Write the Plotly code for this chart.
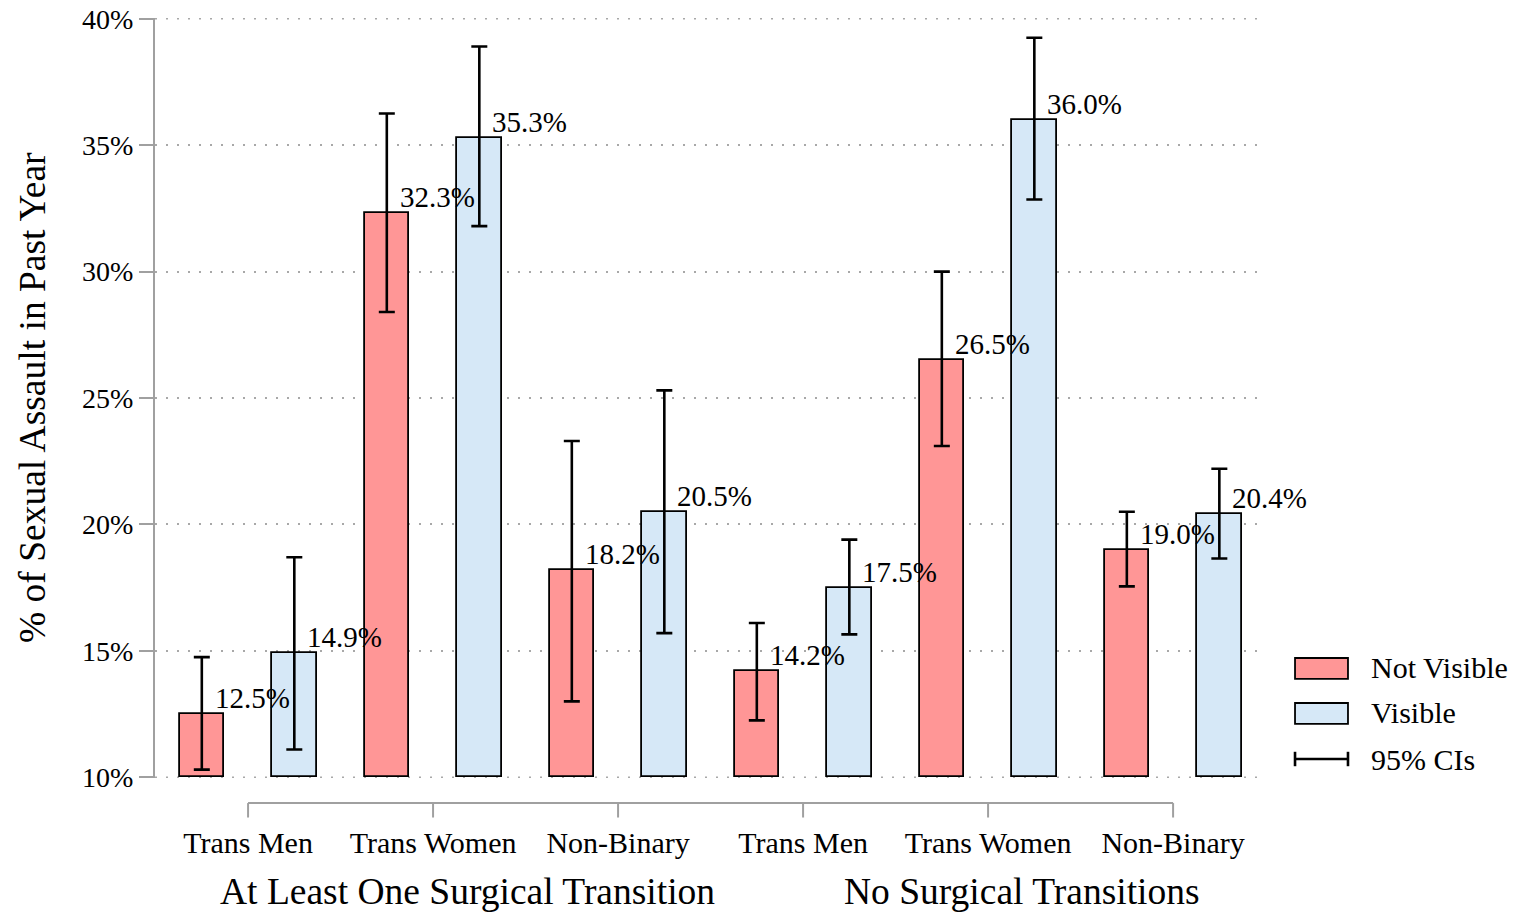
import plotly.graph_objects as go

# Categories
surgery_groups = ["At Least One Surgical Transition", "No Surgical Transitions"]
identities = ["Trans Men", "Trans Women", "Non-Binary"]
tick_labels = identities * 2

# % experiencing sexual assault in the past year, with 95% CI bounds
not_visible = [12.5, 32.3, 18.2, 14.2, 26.5, 19.0]
not_visible_lo = [10.3, 28.4, 13.0, 12.25, 23.1, 17.55]
not_visible_hi = [14.75, 36.25, 23.3, 16.1, 30.0, 20.5]

visible = [14.9, 35.3, 20.5, 17.5, 36.0, 20.4]
visible_lo = [11.1, 31.8, 15.7, 15.65, 32.85, 18.65]
visible_hi = [18.7, 38.9, 25.3, 19.4, 39.25, 22.2]

y_ticks = [10, 15, 20, 25, 30, 35, 40]
y_title = "% of Sexual Assault in Past Year"

SERIF = "Liberation Serif, Times New Roman, serif"
RED = "#FF9696"
BLUE = "#D6E8F7"
GREY = "#A0A0A0"
GRID = "#A8A8A8"
GRID_DASH = "2px,9px"
BASE = 10
OFFSET = 0.25
BAR_W = 0.24

centers = list(range(len(tick_labels)))
x_nv = [c - OFFSET for c in centers]
x_v = [c + OFFSET for c in centers]

fig = go.Figure()

for name, xs, vals, color in [("Not Visible", x_nv, not_visible, RED),
                              ("Visible", x_v, visible, BLUE)]:
    fig.add_trace(go.Bar(
        x=xs, y=[v - BASE for v in vals], base=BASE, width=BAR_W,
        marker=dict(color=color, line=dict(color="black", width=1.8)),
        name=name, showlegend=False,
    ))

for xs, vals, lo, hi in [(x_nv, not_visible, not_visible_lo, not_visible_hi),
                         (x_v, visible, visible_lo, visible_hi)]:
    fig.add_trace(go.Scatter(
        x=xs, y=vals, mode="markers", marker=dict(size=1, opacity=0),
        error_y=dict(type="data", symmetric=False,
                     array=[h - v for h, v in zip(hi, vals)],
                     arrayminus=[v - l for v, l in zip(vals, lo)],
                     color="black", thickness=2.6, width=8),
        showlegend=False, hoverinfo="skip",
    ))

annotations = []
# value labels at the top-right of each bar
for xs, vals in [(x_nv, not_visible), (x_v, visible)]:
    for x, v in zip(xs, vals):
        annotations.append(dict(
            x=x, y=v, xref="x", yref="y", text=f"{v:.1f}%",
            xanchor="left", yanchor="bottom", xshift=11, yshift=-2,
            showarrow=False, font=dict(family=SERIF, size=29, color="black"),
        ))

# group labels under the identity labels
for g, name in enumerate(surgery_groups):
    annotations.append(dict(
        x=1 + 3 * g, y=-0.149, xref="x", yref="paper", text=name,
        xanchor="center", yanchor="middle", xshift=34, showarrow=False,
        font=dict(family=SERIF, size=37.5, color="black"),
    ))

# y-axis title
annotations.append(dict(
    x=-0.111, y=0.5, xref="paper", yref="paper", text=y_title, textangle=-90,
    xanchor="center", yanchor="middle", showarrow=False,
    font=dict(family=SERIF, size=37.5, color="black"),
))

shapes = []
# dotted guides at the ends of the y range
for yv in (y_ticks[0], y_ticks[-1]):
    shapes.append(dict(type="line", xref="paper", yref="y", x0=0, x1=1, y0=yv, y1=yv,
                       layer="below", line=dict(color=GRID, width=1.5, dash=GRID_DASH)))

# offset x axis line with downward ticks
AX_Y = -0.033
TICK_Y = -0.052
shapes.append(dict(type="line", xref="x", yref="paper", x0=centers[0], x1=centers[-1],
                   y0=AX_Y, y1=AX_Y, line=dict(color=GREY, width=2)))
for c in centers:
    shapes.append(dict(type="line", xref="x", yref="paper", x0=c, x1=c,
                       y0=AX_Y, y1=TICK_Y, line=dict(color=GREY, width=2)))

# legend
LX0, LX1, LTX = 1.0289, 1.0767, 1.0957
legend_items = [("Not Visible", RED, 0.1579, 0.1303), ("Visible", BLUE, 0.0987, 0.0711)]
for label, color, y0, y1 in legend_items:
    shapes.append(dict(type="rect", xref="paper", yref="paper", x0=LX0, x1=LX1,
                       y0=y1, y1=y0, fillcolor=color, line=dict(color="black", width=1.8)))
    annotations.append(dict(x=LTX, y=(y0 + y1) / 2 + 0.001, xref="paper", yref="paper",
                            text=label, xanchor="left", yanchor="middle", showarrow=False,
                            font=dict(family=SERIF, size=30, color="black")))
CI_Y = 0.025
shapes.append(dict(type="line", xref="paper", yref="paper", x0=LX0, x1=LX1,
                   y0=CI_Y, y1=CI_Y, line=dict(color="black", width=2.6)))
for xe in (LX0, LX1):
    shapes.append(dict(type="line", xref="paper", yref="paper", x0=xe, x1=xe,
                       y0=CI_Y - 0.0095, y1=CI_Y + 0.0095, line=dict(color="black", width=2.6)))
annotations.append(dict(x=LTX, y=CI_Y - 0.001, xref="paper", yref="paper",
                        text="95% CIs", xanchor="left", yanchor="middle", showarrow=False,
                        font=dict(family=SERIF, size=30, color="black")))

fig.update_layout(
    width=1515, height=913,
    margin=dict(l=155, r=252, t=18, b=135, autoexpand=False),
    paper_bgcolor="white", plot_bgcolor="white",
    font=dict(family=SERIF, size=28, color="black"),
    bargap=0, showlegend=False,
    annotations=annotations, shapes=shapes,
    xaxis=dict(
        range=[-0.503, 5.486], tickmode="array", tickvals=centers, ticktext=tick_labels,
        showgrid=False, zeroline=False, showline=False, ticks="",
        ticklabelstandoff=44, automargin=False,
        tickfont=dict(family=SERIF, size=30, color="black"),
    ),
    yaxis=dict(
        range=[BASE - 0.03, 40.03], tickmode="array", tickvals=y_ticks,
        ticktext=[f"{t}%" for t in y_ticks], automargin=False,
        showline=True, linecolor=GREY, linewidth=2,
        ticks="outside", ticklen=14, tickcolor=GREY, tickwidth=2,
        showgrid=True, gridcolor=GRID, gridwidth=1.5, griddash=GRID_DASH,
        zeroline=False, tickfont=dict(family=SERIF, size=28, color="black"),
    ),
)

fig.write_html("out.html")
